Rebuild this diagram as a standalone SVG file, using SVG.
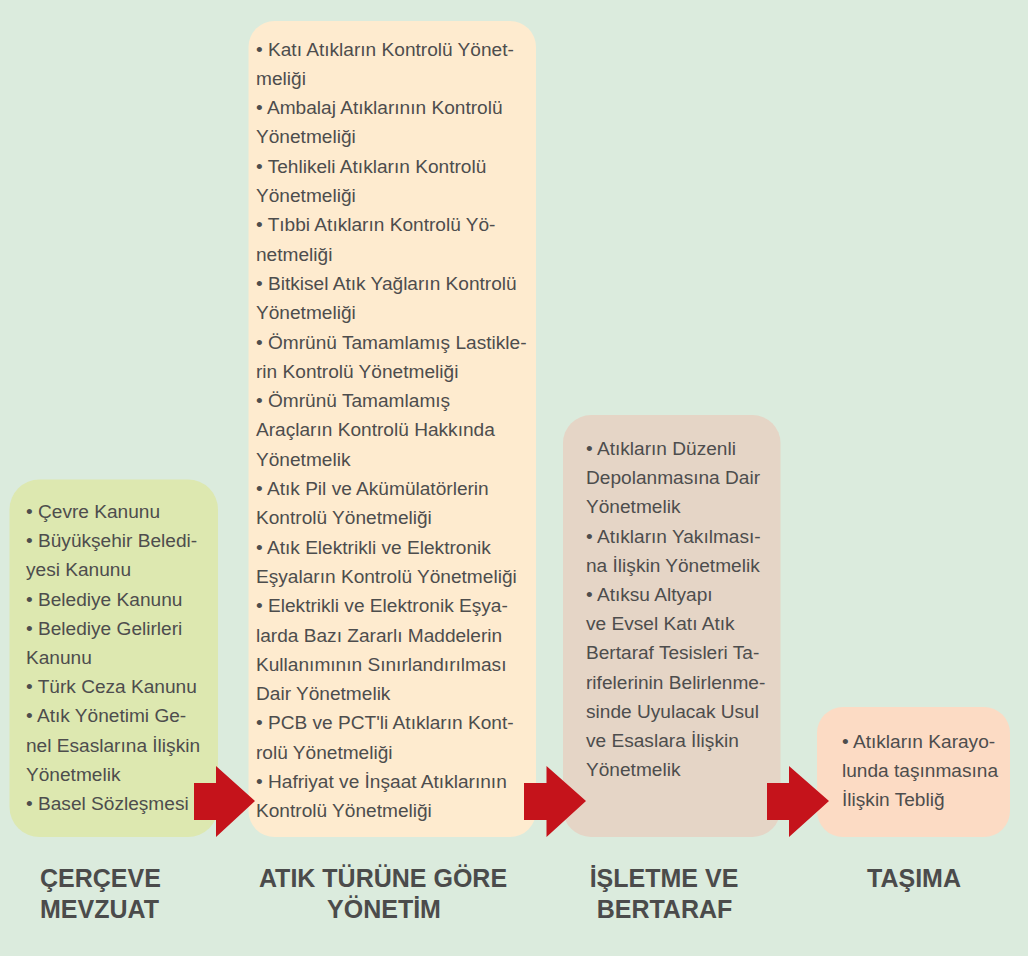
<svg xmlns="http://www.w3.org/2000/svg" width="1028" height="956" viewBox="0 0 1028 956">
<style>
.t{font-family:"Liberation Sans",Arial,sans-serif;font-size:19.1px;fill:#4d4d4d}
.h{font-family:"Liberation Sans",Arial,sans-serif;font-size:25px;font-weight:bold;fill:#4b4b4b}
.c{text-anchor:middle}
.arrow{fill:#c5131b}
</style>
<rect x="0" y="0" width="1028" height="956" fill="#dbebdd"/>
<g id="node-cerceve">
<rect x="9.5" y="479.5" width="208.5" height="357.5" rx="30" fill="#dde8b0"/>
<text class="t">
<tspan x="26" y="518">• Çevre Kanunu</tspan>
<tspan x="26" y="547.2">• Büyükşehir Beledi-</tspan>
<tspan x="26" y="576.4">yesi Kanunu</tspan>
<tspan x="26" y="605.6">• Belediye Kanunu</tspan>
<tspan x="26" y="634.8">• Belediye Gelirleri</tspan>
<tspan x="26" y="664">Kanunu</tspan>
<tspan x="26" y="693.2">• Türk Ceza Kanunu</tspan>
<tspan x="26" y="722.4">• Atık Yönetimi Ge-</tspan>
<tspan x="26" y="751.6">nel Esaslarına İlişkin</tspan>
<tspan x="26" y="780.8">Yönetmelik</tspan>
<tspan x="26" y="810">• Basel Sözleşmesi</tspan>
</text>
<text class="h" x="40" y="887">ÇERÇEVE</text>
<text class="h" x="40" y="917.5">MEVZUAT</text>
</g>
<g id="node-atik-turu">
<rect x="248.5" y="21" width="287.5" height="816" rx="26" fill="#feebcf"/>
<text class="t">
<tspan x="256" y="55.5">• Katı Atıkların Kontrolü Yönet-</tspan>
<tspan x="256" y="84.8">meliği</tspan>
<tspan x="256" y="114.1">• Ambalaj Atıklarının Kontrolü</tspan>
<tspan x="256" y="143.4">Yönetmeliği</tspan>
<tspan x="256" y="172.7">• Tehlikeli Atıkların Kontrolü</tspan>
<tspan x="256" y="202">Yönetmeliği</tspan>
<tspan x="256" y="231.3">• Tıbbi Atıkların Kontrolü Yö-</tspan>
<tspan x="256" y="260.6">netmeliği</tspan>
<tspan x="256" y="289.9">• Bitkisel Atık Yağların Kontrolü</tspan>
<tspan x="256" y="319.2">Yönetmeliği</tspan>
<tspan x="256" y="348.5">• Ömrünü Tamamlamış Lastikle-</tspan>
<tspan x="256" y="377.8">rin Kontrolü Yönetmeliği</tspan>
<tspan x="256" y="407.1">• Ömrünü Tamamlamış</tspan>
<tspan x="256" y="436.4">Araçların Kontrolü Hakkında</tspan>
<tspan x="256" y="465.7">Yönetmelik</tspan>
<tspan x="256" y="495">• Atık Pil ve Akümülatörlerin</tspan>
<tspan x="256" y="524.3">Kontrolü Yönetmeliği</tspan>
<tspan x="256" y="553.6">• Atık Elektrikli ve Elektronik</tspan>
<tspan x="256" y="582.9">Eşyaların Kontrolü Yönetmeliği</tspan>
<tspan x="256" y="612.2">• Elektrikli ve Elektronik Eşya-</tspan>
<tspan x="256" y="641.5">larda Bazı Zararlı Maddelerin</tspan>
<tspan x="256" y="670.8">Kullanımının Sınırlandırılması</tspan>
<tspan x="256" y="700.1">Dair Yönetmelik</tspan>
<tspan x="256" y="729.4">• PCB ve PCT'li Atıkların Kont-</tspan>
<tspan x="256" y="758.7">rolü Yönetmeliği</tspan>
<tspan x="256" y="788">• Hafriyat ve İnşaat Atıklarının</tspan>
<tspan x="256" y="817.3">Kontrolü Yönetmeliği</tspan>
</text>
<text class="h c" x="383" y="887">ATIK TÜRÜNE GÖRE</text>
<text class="h c" x="384" y="917.5">YÖNETİM</text>
</g>
<g id="node-isletme">
<rect x="563" y="415" width="217.5" height="422" rx="28" fill="#e5d5c6"/>
<text class="t">
<tspan x="586" y="455">• Atıkların Düzenli</tspan>
<tspan x="586" y="484.2">Depolanmasına Dair</tspan>
<tspan x="586" y="513.4">Yönetmelik</tspan>
<tspan x="586" y="542.6">• Atıkların Yakılması-</tspan>
<tspan x="586" y="571.8">na İlişkin Yönetmelik</tspan>
<tspan x="586" y="601">• Atıksu Altyapı</tspan>
<tspan x="586" y="630.2">ve Evsel Katı Atık</tspan>
<tspan x="586" y="659.4">Bertaraf Tesisleri Ta-</tspan>
<tspan x="586" y="688.6">rifelerinin Belirlenme-</tspan>
<tspan x="586" y="717.8">sinde Uyulacak Usul</tspan>
<tspan x="586" y="747">ve Esaslara İlişkin</tspan>
<tspan x="586" y="776.2">Yönetmelik</tspan>
</text>
<text class="h c" x="664" y="887">İŞLETME VE</text>
<text class="h c" x="664.5" y="917.5">BERTARAF</text>
</g>
<g id="node-tasima">
<rect x="817" y="707" width="193" height="130" rx="26" fill="#fcdbc4"/>
<text class="t">
<tspan x="842" y="747.5">• Atıkların Karayo-</tspan>
<tspan x="842" y="776.8">lunda taşınmasına</tspan>
<tspan x="842" y="806">İlişkin Tebliğ</tspan>
</text>
<text class="h c" x="914" y="887">TAŞIMA</text>
</g>
<g id="connectors">
<polygon class="arrow" points="194,783 216,783 216,766 255,801 216,837 216,820 194,820"/>
<polygon class="arrow" points="524,783 546.5,783 546.5,766 586,801 546.5,837 546.5,820 524,820"/>
<polygon class="arrow" points="767,783 789,783 789,766 829,801 789,837 789,820 767,820"/>
</g>
</svg>
